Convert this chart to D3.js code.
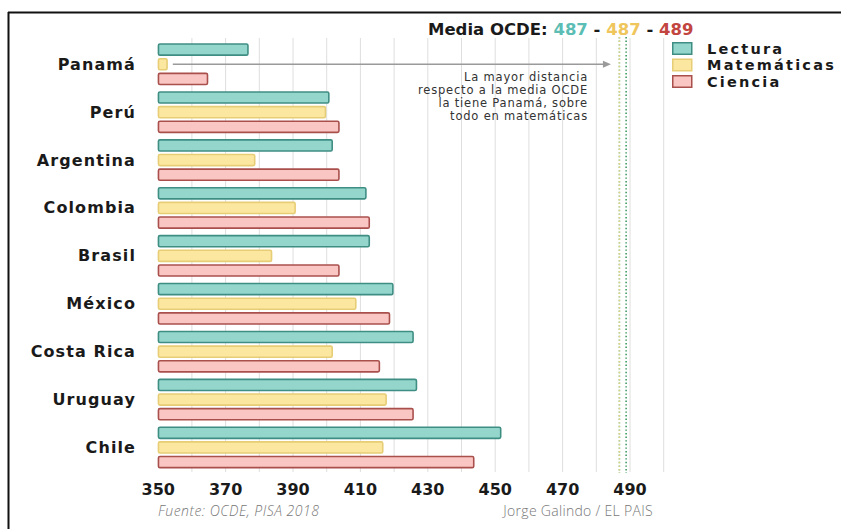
<!DOCTYPE html>
<html><head><meta charset="utf-8">
<script src="https://cdn.jsdelivr.net/npm/d3@7"></script>
<style>
html,body{margin:0;padding:0;background:#fff;}
svg{display:block;}
</style>
</head><body>
<svg id="chart" width="841" height="529"></svg>
<script>
const countries = ["Panamá","Perú","Argentina","Colombia","Brasil","México","Costa Rica","Uruguay","Chile"];
const series = ["Lectura","Matemáticas","Ciencia"];
const lectura = [377,401,402,412,413,420,426,427,452];
const matematicas = [353,400,379,391,384,409,402,418,417];
const ciencia = [365,404,404,413,404,419,416,426,444];
const oecdMeans = [487,487,489];
const tickValues = [350,370,390,410,430,450,470,490];
const gridValues = [360,370,380,390,400,410,420,430,440,450,460,470,480,490,500];
const titleText = "Media OCDE: ";
const annotation = ["La mayor distancia","respecto a la media OCDE","la tiene Panamá, sobre","todo en matemáticas"];
const sourceText = "Fuente: OCDE, PISA 2018";
const authorText = "Jorge Galindo / EL PAIS";

const fills = ["#95d6cc","#fbe7a0","#fac6c3"];
const strokes = ["#3f8e84","#e6cd76","#a9504d"];
const meanText = ["#5bbdb3","#efc65c","#c2453f"];
const meanLine = ["#5bbdb3","#e9d27a","#3f9a63"];

const values = [lectura, matematicas, ciencia];
const svg = d3.select("#chart");

// frame
svg.append("line").attr("x1",8).attr("x2",841).attr("y1",12.5).attr("y2",12.5).attr("stroke","#111").attr("stroke-width",2);
svg.append("line").attr("x1",8.5).attr("x2",8.5).attr("y1",12).attr("y2",529).attr("stroke","#111").attr("stroke-width",2);

const x = d3.scaleLinear().domain([350,500]).range([157.7,663.2]);
const y = d3.scaleBand().domain(countries).range([40.3, 40.3+9*47.9]).paddingInner(0.126).paddingOuter(0.063);
const ys = d3.scaleBand().domain(series).range([0, y.bandwidth()]).paddingInner(0.14);

// grid
svg.append("g").selectAll("line").data(gridValues).join("line")
  .attr("x1",d=>x(d)+0.5).attr("x2",d=>x(d)+0.5).attr("y1",38).attr("y2",472)
  .attr("stroke","#dedede").attr("stroke-width",1);

// OECD mean dotted lines
svg.append("g").selectAll("line").data(oecdMeans).join("line")
  .attr("x1",d=>x(d)).attr("x2",d=>x(d)).attr("y1",37).attr("y2",473)
  .attr("stroke",(d,i)=>meanLine[i]).attr("stroke-width",1.6)
  .attr("stroke-dasharray","1.4,2.2");

// bars
const groups = svg.append("g").selectAll("g").data(countries).join("g")
  .attr("transform",d=>`translate(0,${y(d)})`);
groups.selectAll("rect").data((c,ci)=>series.map((s,si)=>({s,si,v:values[si][ci]}))).join("rect")
  .attr("x",x(350)+0.75)
  .attr("y",d=>ys(d.s)+0.75)
  .attr("width",d=>x(d.v)-x(350)-1.5)
  .attr("height",ys.bandwidth()-1.5)
  .attr("rx",1.5)
  .attr("fill",d=>fills[d.si]).attr("stroke",d=>strokes[d.si]).attr("stroke-width",1.6);

// country labels
svg.append("g").selectAll("text").data(countries).join("text")
  .attr("x",136).attr("y",d=>y(d)+y.bandwidth()/2+5.5)
  .attr("text-anchor","end")
  .attr("font-family","DejaVu Sans").attr("font-weight","bold").attr("font-size",16)
  .attr("letter-spacing",1.1).attr("fill","#1a1a1a").text(d=>d);

// x axis labels
const axis = d3.axisBottom(x).tickValues(tickValues).tickSize(0).tickPadding(0).tickFormat(d3.format("d"));
const ax = svg.append("g").attr("transform","translate(0,495)").call(axis);
ax.select(".domain").remove();
ax.selectAll("text").attr("dy",0).attr("font-family","DejaVu Sans").attr("font-weight","bold")
  .attr("font-size",16).attr("fill","#1a1a1a");

// title
const t = svg.append("text").attr("x",428).attr("y",35)
  .attr("font-family","DejaVu Sans").attr("font-weight","bold").attr("font-size",16.5).attr("fill","#1a1a1a");
t.append("tspan").text(titleText);
oecdMeans.forEach((m,i)=>{
  if(i>0) t.append("tspan").attr("fill","#1a1a1a").text(" - ");
  t.append("tspan").attr("fill",meanText[i]).text(m);
});

// legend
const lg = svg.append("g").selectAll("g").data(series).join("g")
  .attr("transform",(d,i)=>`translate(672,${42+i*16.5})`);
lg.append("rect").attr("x",0.75).attr("y",0.75).attr("width",19).attr("height",11.5)
  .attr("fill",(d,i)=>fills[i]).attr("stroke",(d,i)=>strokes[i]).attr("stroke-width",1.5);
lg.append("text").attr("x",35).attr("y",11.5)
  .attr("font-family","DejaVu Sans").attr("font-weight","bold").attr("font-size",14.5)
  .attr("letter-spacing",2.2).attr("fill","#1a1a1a").text(d=>d);

// arrow annotation
const py = y("Panamá") + ys("Matemáticas") + ys.bandwidth()/2;
svg.append("line").attr("x1",x(353)+5).attr("x2",x(484.5)-6).attr("y1",py).attr("y2",py)
  .attr("stroke","#9a9a9a").attr("stroke-width",1.6);
svg.append("path")
  .attr("d",`M${x(484.5)},${py} L${x(484.5)-8},${py-3.5} L${x(484.5)-8},${py+3.5} Z`)
  .attr("fill","#9a9a9a");
svg.append("g").selectAll("text").data(annotation).join("text")
  .attr("x",588).attr("y",(d,i)=>81+i*13)
  .attr("text-anchor","end").attr("font-family","DejaVu Sans").attr("font-size",11.5)
  .attr("letter-spacing",0.8)
  .attr("fill","#333").text(d=>d);

// footer
svg.append("text").attr("x",158).attr("y",516).attr("font-family","Open Sans").attr("font-style","italic")
  .attr("font-weight",300).attr("font-size",14).attr("letter-spacing",0.5).attr("fill","#777").text(sourceText);
svg.append("text").attr("x",653).attr("y",516).attr("text-anchor","end").attr("font-family","Open Sans")
  .attr("font-weight",300).attr("font-size",14).attr("letter-spacing",0.3).attr("fill","#777").text(authorText);
</script>
</body></html>
